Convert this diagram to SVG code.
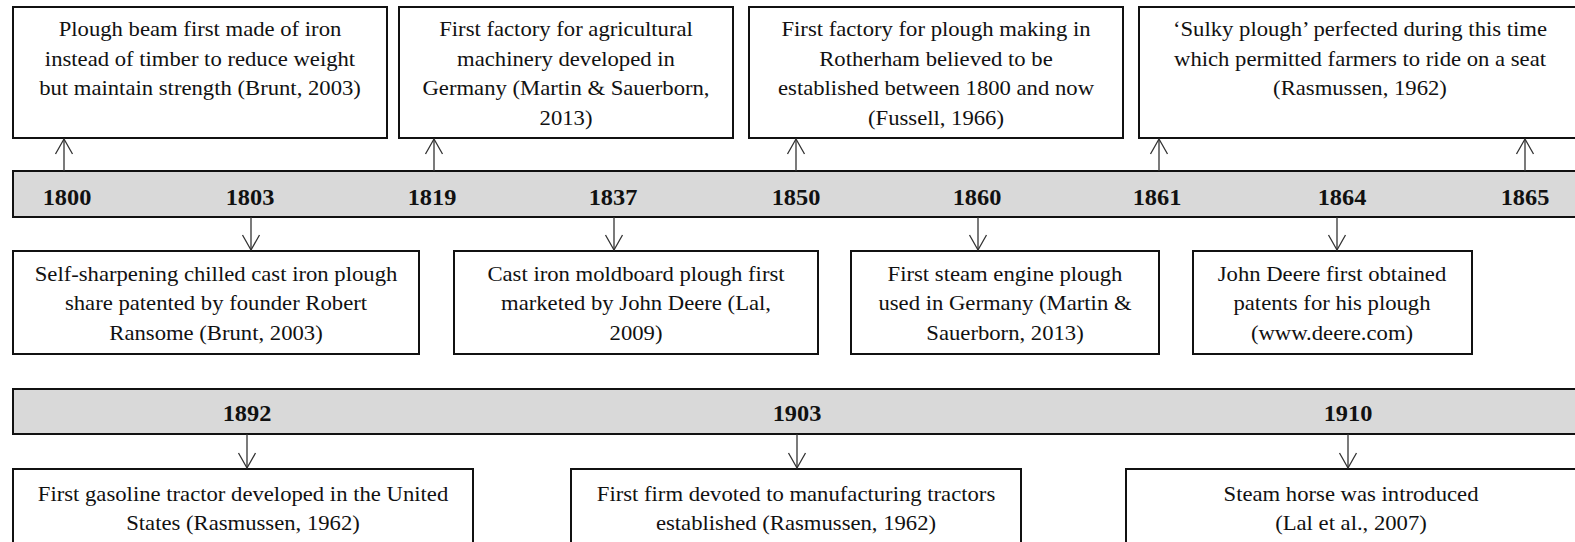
<svg xmlns="http://www.w3.org/2000/svg" width="1575" height="542" viewBox="0 0 1575 542">
<style>
.box{fill:#fff;stroke:#111;stroke-width:2}
.bar{fill:#d9d9d9;stroke:#111;stroke-width:2}
.t{font-family:"Liberation Serif","Times New Roman",serif;font-size:21px;fill:#111;text-anchor:middle}
.y{font-family:"Liberation Serif","Times New Roman",serif;font-size:23px;font-weight:bold;fill:#111;text-anchor:middle}
.c{stroke:#333;stroke-width:1.3;fill:none}
</style>
<defs>
<marker id="ah" viewBox="0 0 20 20" refX="16" refY="10" markerWidth="20" markerHeight="20" markerUnits="userSpaceOnUse" orient="auto">
<path d="M1,1.5 L16,10 L1,18.5" fill="none" stroke="#333" stroke-width="1.3"/>
</marker>
</defs>

<g id="bar1">
<rect class="bar" x="13" y="171" width="1570" height="46"/>
<text class="y" transform="matrix(1.06 0 0 1 67 0)" y="205">1800</text>
<text class="y" transform="matrix(1.06 0 0 1 250 0)" y="205">1803</text>
<text class="y" transform="matrix(1.06 0 0 1 432 0)" y="205">1819</text>
<text class="y" transform="matrix(1.06 0 0 1 613 0)" y="205">1837</text>
<text class="y" transform="matrix(1.06 0 0 1 796 0)" y="205">1850</text>
<text class="y" transform="matrix(1.06 0 0 1 977 0)" y="205">1860</text>
<text class="y" transform="matrix(1.06 0 0 1 1157 0)" y="205">1861</text>
<text class="y" transform="matrix(1.06 0 0 1 1342 0)" y="205">1864</text>
<text class="y" transform="matrix(1.06 0 0 1 1525 0)" y="205">1865</text>
</g>

<g id="bar2">
<rect class="bar" x="13" y="389" width="1570" height="45"/>
<text class="y" transform="matrix(1.06 0 0 1 247 0)" y="421">1892</text>
<text class="y" transform="matrix(1.06 0 0 1 797 0)" y="421">1903</text>
<text class="y" transform="matrix(1.06 0 0 1 1348 0)" y="421">1910</text>
</g>

<g id="n1800">
<rect class="box" x="13" y="7" width="374" height="131"/>
<text class="t" transform="matrix(1.08 0 0 1 200 0)"><tspan x="0" y="36">Plough beam first made of iron</tspan><tspan x="0" y="66">instead of timber to reduce weight</tspan><tspan x="0" y="95">but maintain strength (Brunt, 2003)</tspan></text>
</g>
<g id="n1819">
<rect class="box" x="399" y="7" width="334" height="131"/>
<text class="t" transform="matrix(1.08 0 0 1 566 0)"><tspan x="0" y="36">First factory for agricultural</tspan><tspan x="0" y="66">machinery developed in</tspan><tspan x="0" y="95">Germany (Martin &amp; Sauerborn,</tspan><tspan x="0" y="125">2013)</tspan></text>
</g>
<g id="n1850">
<rect class="box" x="749" y="7" width="374" height="131"/>
<text class="t" transform="matrix(1.08 0 0 1 936 0)"><tspan x="0" y="36">First factory for plough making in</tspan><tspan x="0" y="66">Rotherham believed to be</tspan><tspan x="0" y="95">established between 1800 and now</tspan><tspan x="0" y="125">(Fussell, 1966)</tspan></text>
</g>
<g id="n1861">
<rect class="box" x="1139" y="7" width="442" height="131"/>
<text class="t" transform="matrix(1.08 0 0 1 1360 0)"><tspan x="0" y="36">‘Sulky plough’ perfected during this time</tspan><tspan x="0" y="66">which permitted farmers to ride on a seat</tspan><tspan x="0" y="95">(Rasmussen, 1962)</tspan></text>
</g>

<g id="n1803">
<rect class="box" x="13" y="251" width="406" height="103"/>
<text class="t" transform="matrix(1.08 0 0 1 216 0)"><tspan x="0" y="281">Self-sharpening chilled cast iron plough</tspan><tspan x="0" y="310">share patented by founder Robert</tspan><tspan x="0" y="340">Ransome (Brunt, 2003)</tspan></text>
</g>
<g id="n1837">
<rect class="box" x="454" y="251" width="364" height="103"/>
<text class="t" transform="matrix(1.08 0 0 1 636 0)"><tspan x="0" y="281">Cast iron moldboard plough first</tspan><tspan x="0" y="310">marketed by John Deere (Lal,</tspan><tspan x="0" y="340">2009)</tspan></text>
</g>
<g id="n1860">
<rect class="box" x="851" y="251" width="308" height="103"/>
<text class="t" transform="matrix(1.08 0 0 1 1005 0)"><tspan x="0" y="281">First steam engine plough</tspan><tspan x="0" y="310">used in Germany (Martin &amp;</tspan><tspan x="0" y="340">Sauerborn, 2013)</tspan></text>
</g>
<g id="n1864">
<rect class="box" x="1193" y="251" width="279" height="103"/>
<text class="t" transform="matrix(1.08 0 0 1 1332 0)"><tspan x="0" y="281">John Deere first obtained</tspan><tspan x="0" y="310">patents for his plough</tspan><tspan x="0" y="340">(www.deere.com)</tspan></text>
</g>

<g id="n1892">
<rect class="box" x="13" y="469" width="460" height="90"/>
<text class="t" transform="matrix(1.08 0 0 1 243 0)"><tspan x="0" y="501">First gasoline tractor developed in the United</tspan><tspan x="0" y="530">States (Rasmussen, 1962)</tspan></text>
</g>
<g id="n1903">
<rect class="box" x="571" y="469" width="450" height="90"/>
<text class="t" transform="matrix(1.08 0 0 1 796 0)"><tspan x="0" y="501">First firm devoted to manufacturing tractors</tspan><tspan x="0" y="530">established (Rasmussen, 1962)</tspan></text>
</g>
<g id="n1910">
<rect class="box" x="1126" y="469" width="452" height="90"/>
<text class="t" transform="matrix(1.08 0 0 1 1351 0)"><tspan x="0" y="501">Steam horse was introduced</tspan><tspan x="0" y="530">(Lal et al., 2007)</tspan></text>
</g>

<g id="connectors">
<line class="c" x1="64" y1="171" x2="64" y2="139" marker-end="url(#ah)"/>
<line class="c" x1="434" y1="171" x2="434" y2="139" marker-end="url(#ah)"/>
<line class="c" x1="796" y1="171" x2="796" y2="139" marker-end="url(#ah)"/>
<line class="c" x1="1159" y1="171" x2="1159" y2="139" marker-end="url(#ah)"/>
<line class="c" x1="1525" y1="171" x2="1525" y2="139" marker-end="url(#ah)"/>
<line class="c" x1="251" y1="217" x2="251" y2="250" marker-end="url(#ah)"/>
<line class="c" x1="614" y1="217" x2="614" y2="250" marker-end="url(#ah)"/>
<line class="c" x1="978" y1="217" x2="978" y2="250" marker-end="url(#ah)"/>
<line class="c" x1="1337" y1="217" x2="1337" y2="250" marker-end="url(#ah)"/>
<line class="c" x1="247" y1="434" x2="247" y2="468" marker-end="url(#ah)"/>
<line class="c" x1="797" y1="434" x2="797" y2="468" marker-end="url(#ah)"/>
<line class="c" x1="1348" y1="434" x2="1348" y2="468" marker-end="url(#ah)"/>
</g>
</svg>
